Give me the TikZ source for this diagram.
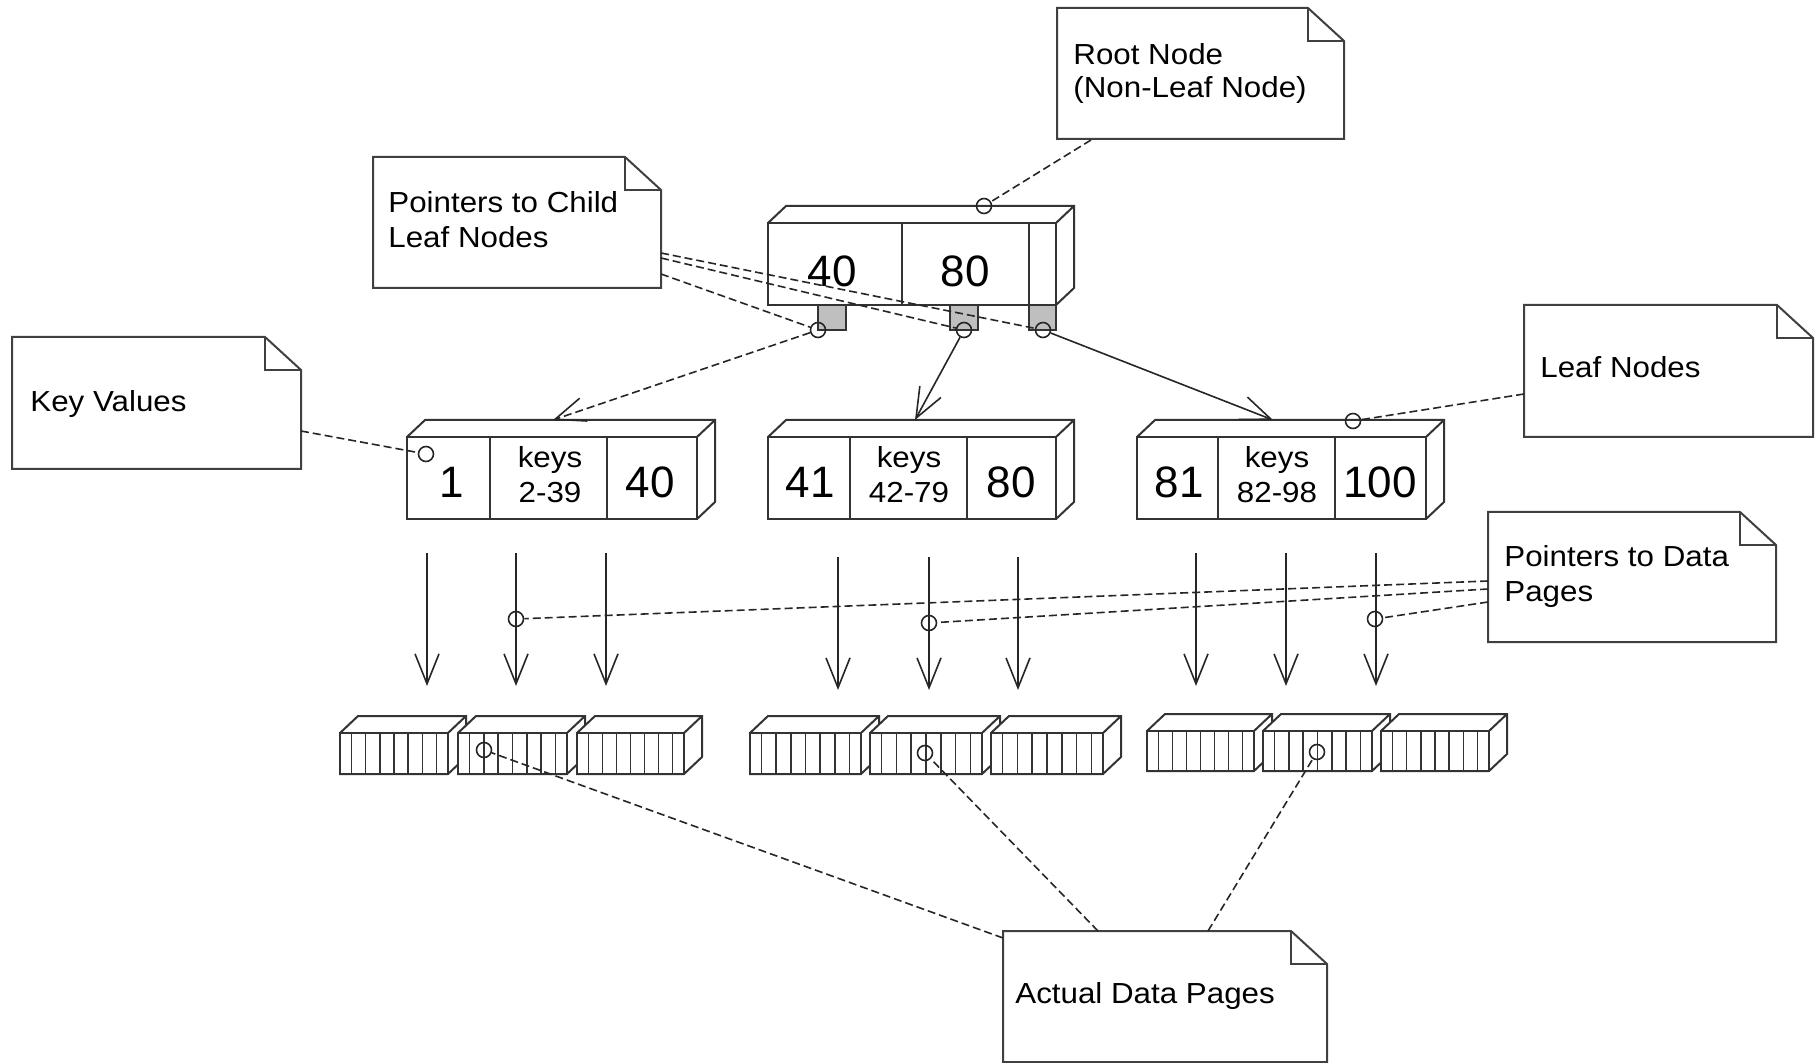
\documentclass[tikz,border=0pt]{standalone}
\usepackage{fontspec}
\setmainfont{Liberation Sans}
\newfontfamily\notefont[FakeStretch=1.08]{Liberation Sans}
\usetikzlibrary{arrows.meta,fit}

\tikzset{
  box/.style={draw=black!80, line width=1pt, fill=white, line join=miter},
  stripe/.style={draw=black!80, line width=0.8pt},
  noteline/.style={draw=black!75, line width=1pt, fill=white},
  link/.style={draw=black!85, line width=0.8pt, dash pattern=on 4pt off 2pt},
  ptr/.style={draw=black!85, line width=0.8pt, -{Straight Barb[length=15pt,width=12pt]}},
  dot/.style={circle, draw=black!85, line width=0.8pt, minimum size=7.5pt, inner sep=0pt},
  notetext/.style={font=\notefont\fontsize{14.5}{17.5}\selectfont, anchor=base west, inner sep=0pt},
  keytext/.style={font=\notefont\fontsize{14.5}{17.5}\selectfont, anchor=base, inner sep=0pt},
  numtext/.style={font=\fontsize{22}{26}\selectfont, anchor=base, inner sep=0pt},
}

% note card with a folded corner: name, x1, y1, x2, y2
\newcommand\notecard[5]{%
  \draw[noteline] (#2,#3) -- (#4-36,#3) -- (#4,#3+33) -- (#4,#5) -- (#2,#5) -- cycle;
  \draw[noteline, fill=none] (#4-36,#3) -- (#4-36,#3+33) -- (#4,#3+33);
  \node[fit={(#2,#3) (#4,#5)}, inner sep=0pt] (#1) {};
}

% box drawn in perspective: front face (x1,y1)-(x2,y2)
\newcommand\cuboid[4]{%
  \path[box] (#1,#2) -- (#1+18,#2-17) -- (#3+18,#2-17) -- (#3+18,#4-17) -- (#3,#4) -- (#1,#4) -- cycle;
  \draw[box] (#1,#2) rectangle (#3,#4);
  \draw[box] (#3,#2) -- (#3+18,#2-17);
}

% striped data page
\newcommand\datapage[4]{%
  \cuboid{#1}{#2}{#3}{#4}
  \pgfmathsetmacro\stripegap{(#3-#1-23)/6}
  \foreach \k in {0,...,6}{\draw[stripe] ({#1+11.5+\k*\stripegap},#2) -- ({#1+11.5+\k*\stripegap},#4);}
}

\begin{document}
\begin{tikzpicture}[x=0.5pt,y=-0.5pt]
\useasboundingbox (0,0) rectangle (1820,1063);

% ---- notes ----
\notecard{rootnote}{1057}{8}{1344}{139}
\node[notetext] (rootnoteA) at (1073,65) {Root Node};
\node[notetext] (rootnoteB) at (1073,98) {(Non-Leaf Node)};

\notecard{childnote}{373}{157}{661}{288}
\node[notetext] (childnoteA) at (388,213) {Pointers to Child};
\node[notetext] (childnoteB) at (388,248) {Leaf Nodes};

\notecard{keynote}{12}{337}{301}{469}
\node[notetext] (keynoteA) at (30,412) {Key Values};

\notecard{leafnote}{1524}{305}{1813}{437}
\node[notetext] (leafnoteA) at (1540,378) {Leaf Nodes};

\notecard{datanote}{1488}{512}{1776}{642}
\node[notetext] (datanoteA) at (1504,567) {Pointers to Data};
\node[notetext] (datanoteB) at (1504,602) {Pages};

\notecard{pagesnote}{1003}{931}{1327}{1062}
\node[notetext] (pagesnoteA) at (1015,1003) {Actual Data Pages};

% ---- root node ----
\cuboid{768}{223}{1056}{305}
\draw[box] (902,223) -- (902,305);
\draw[box] (1029,223) -- (1029,305);
\draw[box, fill=black!25] (818,305) rectangle (846,330);
\draw[box, fill=black!25] (950,305) rectangle (978,330);
\draw[box, fill=black!25] (1029,305) rectangle (1056,330);
\node[numtext] (r40) at (832,287) {40};
\node[numtext] (r80) at (965,287) {80};

% ---- leaf nodes ----
\cuboid{407}{437}{697}{519}
\draw[box] (490,437) -- (490,519);
\draw[box] (607,437) -- (607,519);
\node[numtext] (l1a) at (452,498) {1};
\node[keytext] (l1b) at (550,468) {keys};
\node[keytext] (l1c) at (550,503) {2-39};
\node[numtext] (l1d) at (650,498) {40};

\cuboid{768}{437}{1056}{519}
\draw[box] (850,437) -- (850,519);
\draw[box] (967,437) -- (967,519);
\node[numtext] (l2a) at (810,498) {41};
\node[keytext] (l2b) at (909,468) {keys};
\node[keytext] (l2c) at (909,503) {42-79};
\node[numtext] (l2d) at (1011,498) {80};

\cuboid{1137}{437}{1426}{519}
\draw[box] (1218,437) -- (1218,519);
\draw[box] (1335,437) -- (1335,519);
\node[numtext] (l3a) at (1179,498) {81};
\node[keytext] (l3b) at (1277,468) {keys};
\node[keytext] (l3c) at (1277,503) {82-98};
\node[numtext] (l3d) at (1380,498) {100};

% ---- data pages ----
\datapage{340}{733}{448}{774}
\datapage{458}{733}{567}{774}
\datapage{577}{733}{684}{774}
\datapage{750}{733}{861}{774}
\datapage{870}{733}{982}{774}
\datapage{991}{733}{1103}{774}
\datapage{1147}{731}{1254}{771}
\datapage{1263}{731}{1372}{771}
\datapage{1381}{731}{1489}{771}

% ---- pointers from leaf entries to data pages ----
\foreach \n/\x/\ya/\yb in {a11/427/553/686, a12/516/553/686, a13/606/553/686,
                          a21/838/557/690, a22/929/557/690, a23/1018/557/690,
                          a31/1196/553/686, a32/1286/553/686, a33/1376/553/686}{
  \coordinate (\n s) at (\x,\ya);
  \coordinate (\n e) at (\x,\yb);
  \draw[ptr] (\n s) -- (\n e);
}

% ---- attachment circles ----
\node[dot] (rp1) at (818,330) {};
\node[dot] (rp2) at (964,330) {};
\node[dot] (rp3) at (1043,330) {};
\node[dot] (rtop) at (984,206) {};
\node[dot] (l1dot) at (426,454) {};
\node[dot] (l3dot) at (1353,421) {};
\node[dot] (a12dot) at (516,619) {};
\node[dot] (a22dot) at (929,623) {};
\node[dot] (a33dot) at (1375,619) {};
\node[dot] (p12dot) at (484,750) {};
\node[dot] (p22dot) at (925,753) {};
\node[dot] (p32dot) at (1317,752) {};

% ---- child pointers from the root ----
\coordinate (l1in) at (553,420);
\coordinate (l2in) at (915,420);
\coordinate (l3in) at (1273,420);
\draw[ptr, link] (rp1) -- (l1in);
\draw[ptr] (rp2) -- (l2in);
\draw[ptr] (rp3) -- (l3in);

% ---- note anchors ----
\coordinate (rootnote-p) at (1091,140);
\coordinate (childnote-p1) at (661,253);
\coordinate (childnote-p2) at (661,258);
\coordinate (childnote-p3) at (661,274);
\coordinate (keynote-p) at (301,431);
\coordinate (leafnote-p) at (1524,394);
\coordinate (datanote-p1) at (1488,581);
\coordinate (datanote-p2) at (1488,589);
\coordinate (datanote-p3) at (1488,602);
\coordinate (pagesnote-p1) at (1003,938);
\coordinate (pagesnote-p2) at (1098,931);
\coordinate (pagesnote-p3) at (1208,931);

% ---- annotation links ----
\draw[link] (rootnote-p) -- (rtop);
\draw[link] (childnote-p1) -- (rp3);
\draw[link] (childnote-p2) -- (rp2);
\draw[link] (childnote-p3) -- (rp1);
\draw[link] (keynote-p) -- (l1dot);
\draw[link] (leafnote-p) -- (l3dot);
\draw[link] (datanote-p1) -- (a12dot);
\draw[link] (datanote-p2) -- (a22dot);
\draw[link] (datanote-p3) -- (a33dot);
\draw[link] (pagesnote-p1) -- (p12dot);
\draw[link] (pagesnote-p2) -- (p22dot);
\draw[link] (pagesnote-p3) -- (p32dot);
\end{tikzpicture}
\end{document}
